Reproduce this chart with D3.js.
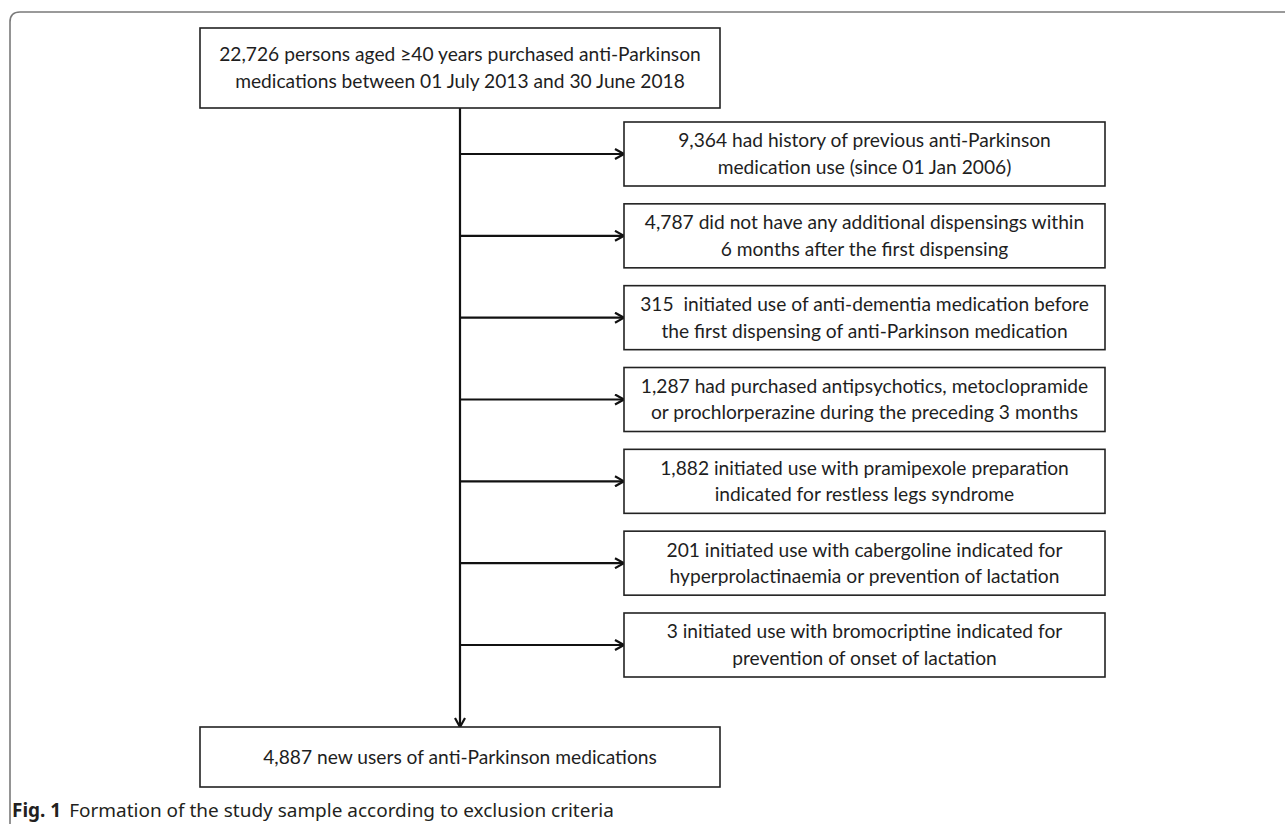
<!DOCTYPE html>
<html>
  <head>
    <meta charset="utf-8" />
    <title>Formation of the study sample</title>
    <style>
      body { margin: 0; background: #fff; }
      svg { display: block; }
      .box { fill: #fff; stroke: #222; stroke-width: 1.6; }
      .flow { fill: none; stroke: #111; stroke-width: 2.2; }
      .label { font-family: Lato, "Open Sans", sans-serif; fill: #1e1e1e; white-space: pre; }
      .caption { font-family: "Noto Sans", Lato, sans-serif; fill: #231f20; }
    </style>
  </head>
  <body>
    <svg width="1285" height="824"></svg>

    <script src="https://d3js.org/d3.v7.min.js"></script>
    <script>
      // flow chart content
      const startText = [
        "22,726 persons aged \u226540 years purchased anti-Parkinson",
        "medications between 01 July 2013 and 30 June 2018"
      ];
      const exclusions = [
        ["9,364 had history of previous anti-Parkinson", "medication use (since 01 Jan 2006)"],
        ["4,787 did not have any additional dispensings within", "6 months after the first dispensing"],
        ["315  initiated use of anti-dementia medication before", "the first dispensing of anti-Parkinson medication"],
        ["1,287 had purchased antipsychotics, metoclopramide", "or prochlorperazine during the preceding 3 months"],
        ["1,882 initiated use with pramipexole preparation", "indicated for restless legs syndrome"],
        ["201 initiated use with cabergoline indicated for", "hyperprolactinaemia or prevention of lactation"],
        ["3 initiated use with bromocriptine indicated for", "prevention of onset of lactation"]
      ];
      const endText = ["4,887 new users of anti-Parkinson medications"];
      const captionBold = "Fig. 1";
      const captionText = "Formation of the study sample according to exclusion criteria";

      const svg = d3.select("svg");

      // outer figure frame (rounded top-left corner, runs off the page)
      svg.append("path")
        .attr("d", "M10,830 L10,22 Q10,12 20,12 L1290,12")
        .attr("fill", "none")
        .attr("stroke", "#7a7a7a")
        .attr("stroke-width", 1.6);

      const defs = svg.append("defs");
      defs.append("marker")
        .attr("id", "arrow")
        .attr("viewBox", "0 0 12 12")
        .attr("refX", 11).attr("refY", 6)
        .attr("markerWidth", 12).attr("markerHeight", 12)
        .attr("markerUnits", "userSpaceOnUse")
        .attr("orient", "auto")
        .append("path")
        .attr("d", "M2,1 L11,6 L2,11")
        .attr("fill", "none")
        .attr("stroke", "#111")
        .attr("stroke-width", 2.2);

      // geometry
      const mainX = 460;
      const startBox = { x0: 200, x1: 720, y0: 28, y1: 108 };
      const endBox = { x0: 200, x1: 720, y0: 727, y1: 787 };
      const side = { x0: 624, x1: 1105, h: 64 };

      const y = d3.scaleLinear()
        .domain([0, exclusions.length - 1])
        .range([122, 613]);

      // font size fitted so the first line is as wide as in the figure
      const probe = svg.append("text").attr("class", "label")
        .style("font-size", "20px").text(startText[0]);
      const fontSize = 20 * 482 / probe.node().getComputedTextLength();
      probe.remove();
      const lineGap = fontSize * 1.38;

      function drawBox(x0, x1, y0, y1, lines) {
        svg.append("rect").attr("class", "box")
          .attr("x", x0).attr("y", y0)
          .attr("width", x1 - x0).attr("height", y1 - y0);
        const cy = (y0 + y1) / 2;
        const first = cy - (lines.length - 1) * lineGap / 2;
        svg.append("text").attr("class", "label")
          .style("font-size", fontSize + "px")
          .attr("text-anchor", "middle")
          .selectAll("tspan")
          .data(lines)
          .join("tspan")
          .attr("x", (x0 + x1) / 2)
          .attr("y", (d, i) => first + i * lineGap)
          .attr("dy", "0.35em")
          .text(d => d);
      }

      // main vertical flow
      svg.append("line").attr("class", "flow")
        .attr("x1", mainX).attr("x2", mainX)
        .attr("y1", startBox.y1).attr("y2", endBox.y0)
        .attr("marker-end", "url(#arrow)");

      // side arrows
      svg.selectAll(".side-arrow")
        .data(exclusions)
        .join("line")
        .attr("class", "flow side-arrow")
        .attr("x1", mainX).attr("x2", side.x0)
        .attr("y1", (d, i) => y(i) + side.h / 2)
        .attr("y2", (d, i) => y(i) + side.h / 2)
        .attr("marker-end", "url(#arrow)");

      drawBox(startBox.x0, startBox.x1, startBox.y0, startBox.y1, startText);
      exclusions.forEach((lines, i) => drawBox(side.x0, side.x1, y(i), y(i) + side.h, lines));
      drawBox(endBox.x0, endBox.x1, endBox.y0, endBox.y1, endText);

      // caption, sized to span roughly 12..606 px like the figure
      const cap = svg.append("text").attr("class", "caption")
        .style("font-size", "18px")
        .attr("x", 12).attr("y", 817);
      cap.append("tspan").attr("font-weight", "bold").text(captionBold);
      cap.append("tspan").attr("dx", 8).text(captionText);
      const capSize = 18 * 594 / cap.node().getComputedTextLength();
      cap.style("font-size", Math.min(capSize, 19) + "px");
    </script>
  </body>
</html>
